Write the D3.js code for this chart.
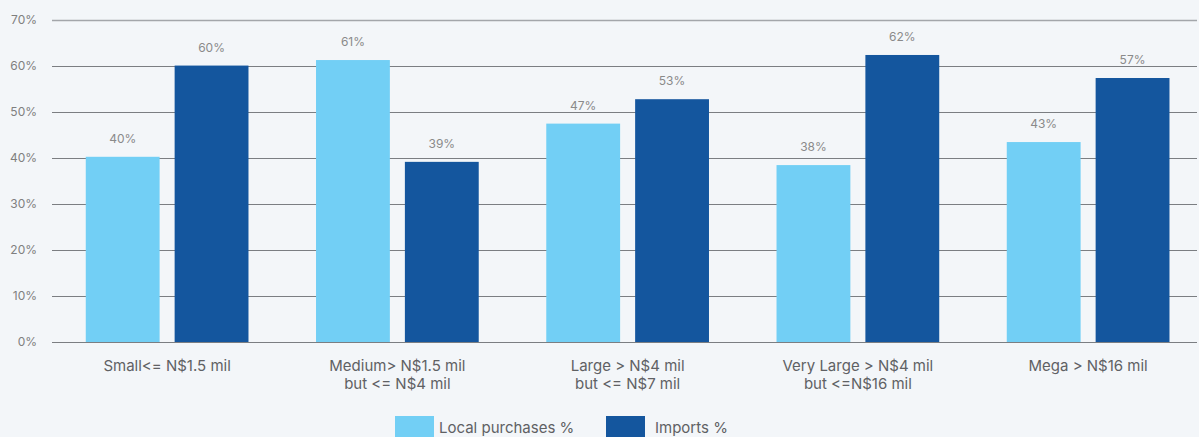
<!DOCTYPE html>
<html>
<head>
<meta charset="utf-8">
<script src="https://cdn.jsdelivr.net/npm/d3@7"></script>
<style>
  html, body { margin: 0; padding: 0; background: #f3f6f9; }
  svg { display: block; font-family: Inter, "Noto Sans", sans-serif; }
</style>
</head>
<body>
<svg id="chart" width="1199" height="437"></svg>
<script>
// Purchase source split by firm size
const categories = [
  ["Small<= N$1.5 mil"],
  ["Medium> N$1.5 mil", "but <= N$4 mil"],
  ["Large > N$4 mil", "but <= N$7 mil"],
  ["Very Large > N$4 mil", "but <=N$16 mil"],
  ["Mega > N$16 mil"]
];
const seriesNames = ["Local purchases %", "Imports %"];
const localPurchases = [40.2, 61.2, 47.4, 38.4, 43.4];
const imports = [60.0, 39.1, 52.7, 62.3, 57.3];
const yTicks = [0, 10, 20, 30, 40, 50, 60, 70];
const colors = ["#72cff5", "#14569e"];

const svg = d3.select("#chart");
const W = 1199, H = 437;
const plotLeft = 52, plotRight = 1197, plotTop = 19.5, plotBottom = 342;

// category bands run slightly past the right edge of the drawing area
const x0 = d3.scaleBand()
  .domain(d3.range(categories.length))
  .range([plotLeft, plotLeft + 5 * 230.25])
  .paddingInner(0).paddingOuter(0);

const x1 = d3.scaleBand()
  .domain([0, 1])
  .range([0, x0.bandwidth()])
  .paddingInner(0.169)
  .paddingOuter(0.38);

const y = d3.scaleLinear().domain([0, 70]).range([plotBottom, plotTop]);

// gridlines
const grid = svg.append("g");
grid.selectAll("line")
  .data(yTicks)
  .join("line")
  .attr("x1", plotLeft)
  .attr("x2", plotRight)
  .attr("y1", d => Math.round(y(d)) + 0.5)
  .attr("y2", d => Math.round(y(d)) + 0.5)
  .attr("stroke", d => d === 70 ? "#a3a6aa" : "#7b7e82")
  .attr("stroke-width", d => d === 70 ? 1.6 : 1);

// y axis labels
const yAxis = d3.axisLeft(y).tickValues(yTicks).tickFormat(d => d + "%").tickSize(0).tickPadding(0);
const yg = svg.append("g").attr("transform", `translate(37,0)`).call(yAxis);
yg.select(".domain").remove();
yg.selectAll("text")
  .attr("fill", "#7f7f7f")
  .attr("font-size", 12)
  .attr("font-family", "Inter, sans-serif");

// bars
const rows = categories.map((c, i) => [localPurchases[i], imports[i]]);
const groups = svg.append("g").selectAll("g")
  .data(rows)
  .join("g")
  .attr("transform", (d, i) => `translate(${x0(i)},0)`);

groups.selectAll("rect")
  .data(d => d.map((v, k) => ({ v, k })))
  .join("rect")
  .attr("x", d => x1(d.k))
  .attr("width", x1.bandwidth())
  .attr("y", d => y(d.v))
  .attr("height", d => y(0) - y(d.v))
  .attr("fill", d => colors[d.k]);

groups.selectAll("text.val")
  .data(d => d.map((v, k) => ({ v, k })))
  .join("text")
  .attr("class", "val")
  .attr("x", d => x1(d.k) + x1.bandwidth() / 2)
  .attr("y", d => y(d.v) - 14)
  .attr("text-anchor", "middle")
  .attr("fill", "#8a8a8a")
  .attr("font-size", 12)
  .text(d => Math.round(d.v) + "%");

// category labels
const catG = svg.append("g");
categories.forEach((lines, i) => {
  const cx = x0(i) + x1(0) + (x1(1) + x1.bandwidth() - x1(0)) / 2;
  const t = catG.append("text")
    .attr("x", cx)
    .attr("y", 371)
    .attr("text-anchor", "middle")
    .attr("fill", "#5f6164")
    .attr("font-size", 15);
  lines.forEach((ln, j) => {
    t.append("tspan")
      .attr("x", cx)
      .attr("dy", j === 0 ? 0 : 18)
      .text(ln);
  });
});

// legend
const legendX = [395, 606];
const leg = svg.append("g");
seriesNames.forEach((name, k) => {
  leg.append("rect")
    .attr("x", legendX[k]).attr("y", 416)
    .attr("width", 39).attr("height", 22)
    .attr("fill", colors[k]);
  leg.append("text")
    .attr("x", legendX[k] + (k === 0 ? 44 : 49))
    .attr("y", 433)
    .attr("fill", "#5f6164")
    .attr("font-size", 15)
    .text(name);
});
</script>
</body>
</html>
